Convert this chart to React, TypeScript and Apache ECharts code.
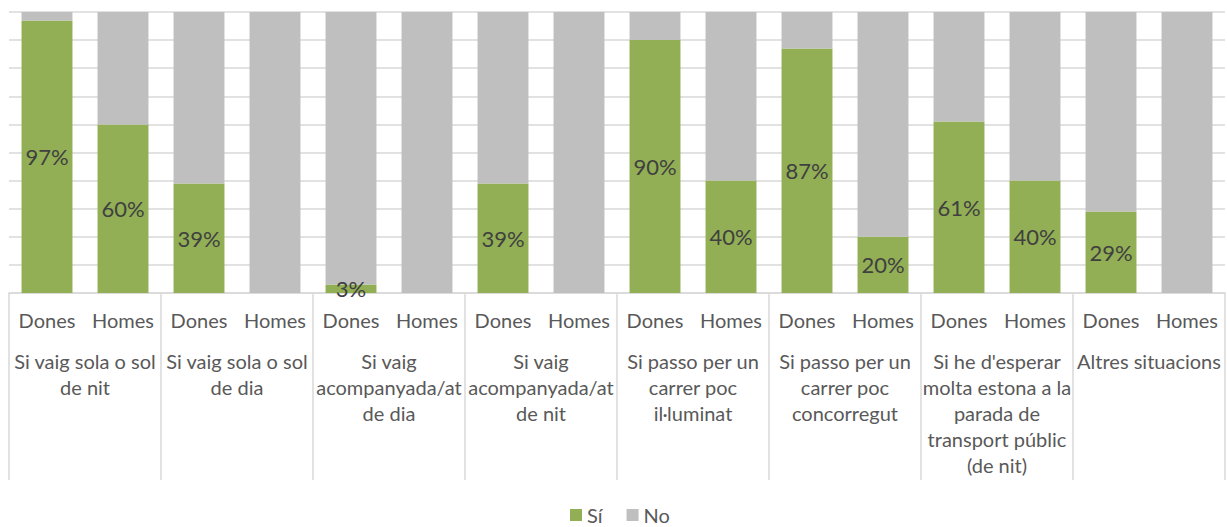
import React, { useEffect, useRef } from "react";
import * as echarts from "echarts";

const subCategories = [
  "Dones", "Homes", "Dones", "Homes", "Dones", "Homes", "Dones", "Homes",
  "Dones", "Homes", "Dones", "Homes", "Dones", "Homes", "Dones", "Homes",
];
const groupCategories = [
  "Si vaig sola o sol\nde nit",
  "Si vaig sola o sol\nde dia",
  "Si vaig\nacompanyada/at\nde dia",
  "Si vaig\nacompanyada/at\nde nit",
  "Si passo per un\ncarrer poc\nil·luminat",
  "Si passo per un\ncarrer poc\nconcorregut",
  "Si he d'esperar\nmolta estona a la\nparada de\ntransport públic\n(de nit)",
  "Altres situacions",
];
const siValues = [97, 60, 39, 0, 3, 0, 39, 0, 90, 40, 87, 20, 61, 40, 29, 0];
const noValues = [3, 40, 61, 100, 97, 100, 61, 100, 10, 60, 13, 80, 39, 60, 71, 100];
const seriesNames = ["Sí", "No"];

const FONT = "Lato, 'Open Sans', sans-serif";

export default function App() {
  const ref = useRef<HTMLDivElement>(null);
  useEffect(() => {
    if (!ref.current) return;
    const chart = echarts.init(ref.current, undefined, { renderer: "svg" });
    chart.setOption({
      animation: false,
      textStyle: { fontFamily: FONT },
      grid: { left: 9, right: 2, top: 12, bottom: 234, containLabel: false },
      legend: {
        top: 505,
        left: 570,
        padding: 0,
        itemWidth: 12,
        itemHeight: 12,
        itemGap: 24,
        icon: "rect",
        textStyle: { fontSize: 20, color: "#595959", fontFamily: FONT },
        data: seriesNames,
      },
      xAxis: [
        {
          type: "category",
          data: subCategories,
          axisLine: { show: true, lineStyle: { color: "#D9D9D9", width: 1.5 } },
          axisTick: { show: false },
          axisLabel: {
            interval: 0,
            margin: 17,
            fontSize: 20,
            color: "#595959",
            fontFamily: FONT,
          },
        },
        {
          type: "category",
          data: groupCategories,
          position: "bottom",
          axisLine: { show: false },
          axisTick: {
            show: true,
            length: 187,
            alignWithLabel: false,
            interval: 0,
            lineStyle: { color: "#D9D9D9", width: 1.5 },
          },
          axisLabel: {
            interval: 0,
            margin: 55,
            fontSize: 20,
            lineHeight: 26,
            color: "#595959",
            fontFamily: FONT,
            align: "center",
          },
        },
      ],
      yAxis: {
        type: "value",
        min: 0,
        max: 100,
        interval: 10,
        axisLabel: { show: false },
        axisLine: { show: false },
        axisTick: { show: false },
        splitLine: { show: true, lineStyle: { color: "#D9D9D9", width: 1.5 } },
      },
      series: [
        {
          name: seriesNames[0],
          type: "bar",
          stack: "total",
          xAxisIndex: 0,
          barCategoryGap: "33%",
          data: siValues,
          itemStyle: { color: "#92AF55" },
          label: {
            show: true,
            position: "inside",
            fontSize: 22,
            color: "#404040",
            fontFamily: FONT,
            formatter: (p: any) => (p.value > 0 ? p.value + "%" : ""),
          },
        },
        {
          name: seriesNames[1],
          type: "bar",
          stack: "total",
          xAxisIndex: 0,
          barCategoryGap: "33%",
          data: noValues,
          itemStyle: { color: "#BFBFBF" },
        },
      ],
    });
    return () => chart.dispose();
  }, []);
  return (
    <div
      ref={ref}
      style={{ position: "fixed", left: 0, top: 0, width: 1227, height: 527, background: "#fff" }}
    />
  );
}
